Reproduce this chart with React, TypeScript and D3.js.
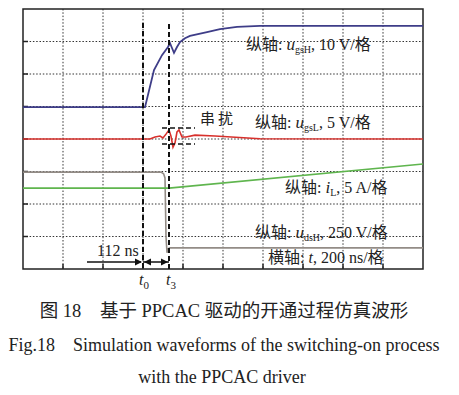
import React from "react";
import * as d3 from "d3";

// time in ns, values in screen divisions (0 = bottom, 8 = top)
const gridTimes = [200, 400, 600, 800, 1000, 1200, 1400, 1600, 1800];
const gridDivs = [1, 2, 3, 4, 5, 6, 7];

const ugsHTime = [0, 610, 655, 695, 725, 735, 745, 755, 770, 785, 810, 835, 920, 985, 1070, 1185, 2000];
const ugsHVal = [4.98, 4.98, 6.12, 6.58, 6.83, 6.95, 6.8, 6.65, 6.83, 6.98, 7.1, 7.17, 7.29, 7.38, 7.45, 7.48, 7.48];

const ugsLTime = [0, 635, 660, 685, 700, 715, 730, 740, 750, 760, 770, 780, 795, 815, 860, 960, 1185, 2000];
const ugsLVal = [4.0, 4.0, 4.06, 4.09, 4.03, 4.15, 4.28, 4.09, 3.75, 3.88, 4.22, 4.28, 4.06, 4.06, 4.12, 4.09, 4.01, 4.0];

const iLTime = [0, 730, 2000];
const iLVal = [2.49, 2.49, 3.23];

const udsHTime = [0, 690, 703, 710, 715, 720, 725, 735, 2000];
const udsHVal = [2.98, 2.98, 2.93, 2.8, 1.0, 0.5, 0.62, 0.65, 0.65];

const t0 = 600;
const t3 = 730;

const W = 459;
const H = 395;
const X0 = 23, X1 = 423, Y0 = 9, Y1 = 269;

const serif = "'Liberation Serif', 'Times New Roman', 'Noto Sans CJK SC', serif";

export default function App() {
  const x = d3.scaleLinear().domain([0, 2000]).range([X0, X1]);
  const y = d3.scaleLinear().domain([0, 8]).range([Y1, Y0]);
  const mk = (ts: number[], vs: number[]) =>
    d3.line<number>().x((_, i) => x(ts[i])).y((v) => y(v))(vs) || "";

  const arrowR = (px: number, py: number) => `M${px},${py} L${px - 7},${py - 3.5} L${px - 7},${py + 3.5} Z`;
  const arrowL = (px: number, py: number) => `M${px},${py} L${px + 7},${py - 3.5} L${px + 7},${py + 3.5} Z`;
  const ay = 262;

  return (
    <svg width={W} height={H} style={{ position: "absolute", left: 0, top: 0, background: "#fff" }} fontFamily={serif}>
      <rect x={0} y={0} width={W} height={H} fill="#fff" />
      {/* grid */}
      {gridTimes.map((t) => (
        <line key={"gx" + t} x1={x(t)} x2={x(t)} y1={Y0} y2={Y1} stroke="#333" strokeWidth={1} strokeDasharray="1.5,1.8" />
      ))}
      {gridDivs.map((d) => (
        <line key={"gy" + d} x1={X0} x2={X1} y1={y(d)} y2={y(d)} stroke="#333" strokeWidth={1} strokeDasharray="1.5,1.8" />
      ))}
      {/* ticks */}
      {gridTimes.map((t) => (
        <line key={"tx" + t} x1={x(t)} x2={x(t)} y1={Y1} y2={Y1 - 5} stroke="#222" strokeWidth={1.5} />
      ))}
      {gridDivs.map((d) => (
        <line key={"ty" + d} x1={X0} x2={X0 + 5} y1={y(d)} y2={y(d)} stroke="#222" strokeWidth={1.5} />
      ))}
      {/* frame */}
      <rect x={X0} y={Y0} width={X1 - X0} height={Y1 - Y0} fill="none" stroke="#222" strokeWidth={1.5} />

      {/* traces */}
      <path d={mk(udsHTime, udsHVal)} fill="none" stroke="#938c86" strokeWidth={1.6} />
      <path d={mk(iLTime, iLVal)} fill="none" stroke="#5fb54e" strokeWidth={1.6} />
      <path d={mk(ugsLTime, ugsLVal)} fill="none" stroke="#d8302c" strokeWidth={1.6} />
      <path d={mk(ugsHTime, ugsHVal)} fill="none" stroke="#3e3d88" strokeWidth={1.8} />

      {/* t0 / t3 markers */}
      <line x1={x(t0)} x2={x(t0)} y1={23} y2={Y1} stroke="#111" strokeWidth={2} strokeDasharray="5,3" />
      <line x1={x(t3)} x2={x(t3)} y1={24} y2={Y1} stroke="#111" strokeWidth={2} strokeDasharray="5,3" />

      {/* crosstalk brackets */}
      <line x1={162} x2={195} y1={128} y2={128} stroke="#111" strokeWidth={1.3} strokeDasharray="5,3" />
      <line x1={162} x2={195} y1={144} y2={144} stroke="#111" strokeWidth={1.3} strokeDasharray="5,3" />
      <text x={200} y={124} fontSize={15} letterSpacing={3} fill="#222">串扰</text>

      {/* arrows */}
      <line x1={87} x2={x(t0) - 2} y1={ay} y2={ay} stroke="#111" strokeWidth={1.5} />
      <path d={arrowR(x(t0) - 1, ay)} fill="#111" />
      <line x1={x(t0)} x2={x(t3)} y1={ay} y2={ay} stroke="#111" strokeWidth={1.5} />
      <path d={arrowL(x(t0) + 1, ay)} fill="#111" />
      <path d={arrowR(x(t3) - 1, ay)} fill="#111" />
      <text x={97} y={256} fontSize={16} fill="#222">112 ns</text>

      <text x={139} y={285} fontSize={16} fill="#222">
        <tspan fontStyle="italic">t</tspan>
        <tspan fontSize={11} dy={4}>0</tspan>
      </text>
      <text x={166} y={285} fontSize={16} fill="#222">
        <tspan fontStyle="italic">t</tspan>
        <tspan fontSize={11} dy={4}>3</tspan>
      </text>

      {/* axis labels */}
      <text x={246} y={50} fontSize={16} fill="#222">
        纵轴: <tspan fontStyle="italic" fontSize={17}>u</tspan>
        <tspan fontSize={10} dy={3}>gsH</tspan>
        <tspan dy={-3}>, 10 V/格</tspan>
      </text>
      <text x={255} y={128} fontSize={16} fill="#222">
        纵轴: <tspan fontStyle="italic" fontSize={17}>u</tspan>
        <tspan fontSize={10} dy={3}>gsL</tspan>
        <tspan dy={-3}>, 5 V/格</tspan>
      </text>
      <text x={285} y={193} fontSize={16} fill="#222">
        纵轴: <tspan fontStyle="italic" fontSize={17}>i</tspan>
        <tspan fontSize={10} dy={3}>L</tspan>
        <tspan dy={-3}>, 5 A/格</tspan>
      </text>
      <text x={255} y={238} fontSize={16} fill="#222">
        纵轴: <tspan fontStyle="italic" fontSize={17}>u</tspan>
        <tspan fontSize={10} dy={3}>dsH</tspan>
        <tspan dy={-3}>,  250 V/格</tspan>
      </text>
      <text x={268} y={263} fontSize={16} fill="#222">
        横轴: <tspan fontStyle="italic">t</tspan>, 200 ns/格
      </text>

      {/* captions */}
      <text x={224} y={317} fontSize={18.5} textAnchor="middle" fill="#222">
        图 18{"\u3000"}基于 PPCAC 驱动的开通过程仿真波形
      </text>
      <text x={224} y={351} fontSize={18} textAnchor="middle" fill="#222">
        Fig.18{"\u3000"}Simulation waveforms of the switching-on process
      </text>
      <text x={222} y={383} fontSize={18} textAnchor="middle" fill="#222">
        with the PPCAC driver
      </text>
    </svg>
  );
}
